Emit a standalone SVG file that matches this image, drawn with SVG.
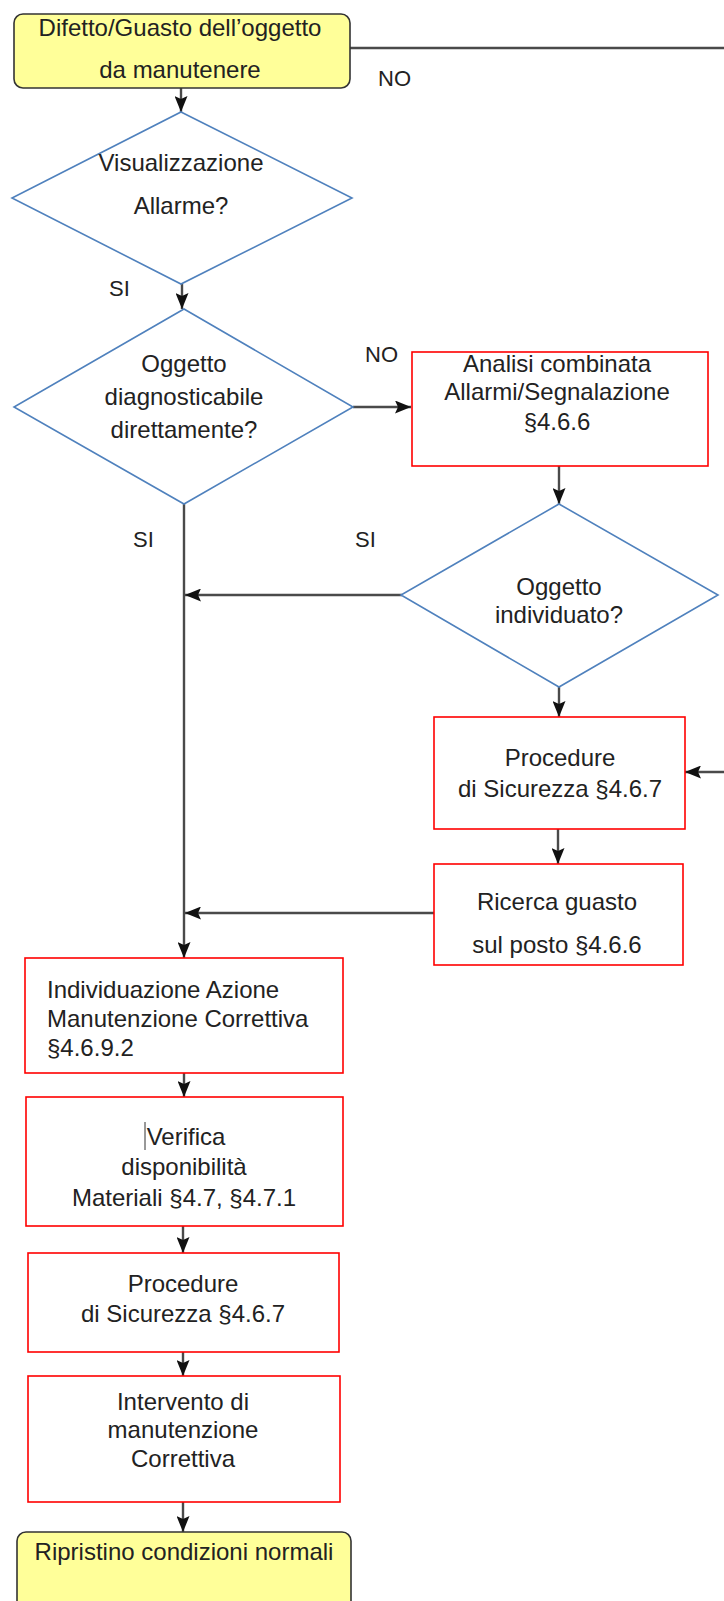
<svg xmlns="http://www.w3.org/2000/svg" width="724" height="1601" viewBox="0 0 724 1601">
<defs>
<marker id="arr" markerUnits="userSpaceOnUse" markerWidth="16" markerHeight="13" viewBox="0 0 16 13" refX="16" refY="6.5" orient="auto">
<path d="M0,0 L16,6.5 L0,13 L3,6.5 z" fill="#111"/>
</marker>
<style>
.term{fill:#FFFF99;stroke:#333;stroke-width:1.6}
.dec{fill:#fff;stroke:#4F81BD;stroke-width:1.6}
.proc{fill:#fff;stroke:#FF0000;stroke-width:1.6}
.t{font-family:"Liberation Sans",Arial,sans-serif;font-size:24px;fill:#222;text-anchor:middle}
.tl{font-family:"Liberation Sans",Arial,sans-serif;font-size:24px;fill:#222}
.lbl{font-family:"Liberation Sans",Arial,sans-serif;font-size:22px;fill:#222}
.c{fill:none;stroke:#4a4a4a;stroke-width:2.4;marker-end:url(#arr)}
</style>
</defs>
<rect width="724" height="1601" fill="#fff"/>
<g id="connectors">
<path class="c" d="M181,88 V112"/>
<path class="c" d="M350,48 H732 V772 H685"/>
<path class="c" d="M182,284 V309"/>
<path class="c" d="M353,407 H411"/>
<path class="c" d="M559,466 V504"/>
<path class="c" d="M402,595 H185"/>
<path class="c" d="M184,504 V958"/>
<path class="c" d="M559,687 V717"/>
<path class="c" d="M558,829 V864"/>
<path class="c" d="M434,913 H185"/>
<path class="c" d="M184,1073 V1097"/>
<path class="c" d="M183,1226 V1253"/>
<path class="c" d="M183,1352 V1376"/>
<path class="c" d="M183,1502 V1532"/>
</g>
<g id="labels">
<text class="lbl" x="378" y="86">NO</text>
<text class="lbl" x="109" y="296">SI</text>
<text class="lbl" x="365" y="362">NO</text>
<text class="lbl" x="133" y="547">SI</text>
<text class="lbl" x="355" y="547">SI</text>
</g>
<g id="n_start">
<rect class="term" x="14" y="14" width="336" height="74" rx="9"/>
<text class="t" x="180" y="36">Difetto/Guasto dell’oggetto</text>
<text class="t" x="180" y="78">da manutenere</text>
</g>
<g id="n_dec1">
<polygon class="dec" points="181,112 352,198 181,284 12,198"/>
<text class="t" x="181" y="171">Visualizzazione</text>
<text class="t" x="181" y="214">Allarme?</text>
</g>
<g id="n_dec2">
<polygon class="dec" points="184,309 353,407 184,504 14,407"/>
<text class="t" x="184" y="372">Oggetto</text>
<text class="t" x="184" y="405">diagnosticabile</text>
<text class="t" x="184" y="438">direttamente?</text>
</g>
<g id="n_analisi">
<rect class="proc" x="412" y="352" width="296" height="114"/>
<text class="t" x="557" y="372">Analisi combinata</text>
<text class="t" x="557" y="400">Allarmi/Segnalazione</text>
<text class="t" x="557" y="430">§4.6.6</text>
</g>
<g id="n_dec3">
<polygon class="dec" points="559,504 718,595 559,687 401,595"/>
<text class="t" x="559" y="595">Oggetto</text>
<text class="t" x="559" y="623">individuato?</text>
</g>
<g id="n_proc1">
<rect class="proc" x="434" y="717" width="251" height="112"/>
<text class="t" x="560" y="766">Procedure</text>
<text class="t" x="560" y="797">di Sicurezza §4.6.7</text>
</g>
<g id="n_ricerca">
<rect class="proc" x="434" y="864" width="249" height="101"/>
<text class="t" x="557" y="910">Ricerca guasto</text>
<text class="t" x="557" y="953">sul posto §4.6.6</text>
</g>
<g id="n_individuazione">
<rect class="proc" x="25" y="958" width="318" height="115"/>
<text class="tl" x="47" y="998">Individuazione Azione</text>
<text class="tl" x="47" y="1027">Manutenzione Correttiva</text>
<text class="tl" x="47" y="1056">§4.6.9.2</text>
</g>
<g id="n_verifica">
<rect class="proc" x="26" y="1097" width="317" height="129"/>
<line x1="145" y1="1122" x2="145" y2="1150" stroke="#333" stroke-width="1"/>
<text class="t" x="186" y="1145">Verifica</text>
<text class="t" x="184" y="1175">disponibilità</text>
<text class="t" x="184" y="1206">Materiali §4.7, §4.7.1</text>
</g>
<g id="n_proc2">
<rect class="proc" x="28" y="1253" width="311" height="99"/>
<text class="t" x="183" y="1292">Procedure</text>
<text class="t" x="183" y="1322">di Sicurezza §4.6.7</text>
</g>
<g id="n_intervento">
<rect class="proc" x="28" y="1376" width="312" height="126"/>
<text class="t" x="183" y="1410">Intervento di</text>
<text class="t" x="183" y="1438">manutenzione</text>
<text class="t" x="183" y="1467">Correttiva</text>
</g>
<g id="n_end">
<rect class="term" x="17" y="1532" width="334" height="78" rx="9"/>
<text class="t" x="184" y="1560">Ripristino condizioni normali</text>
</g>
</svg>
